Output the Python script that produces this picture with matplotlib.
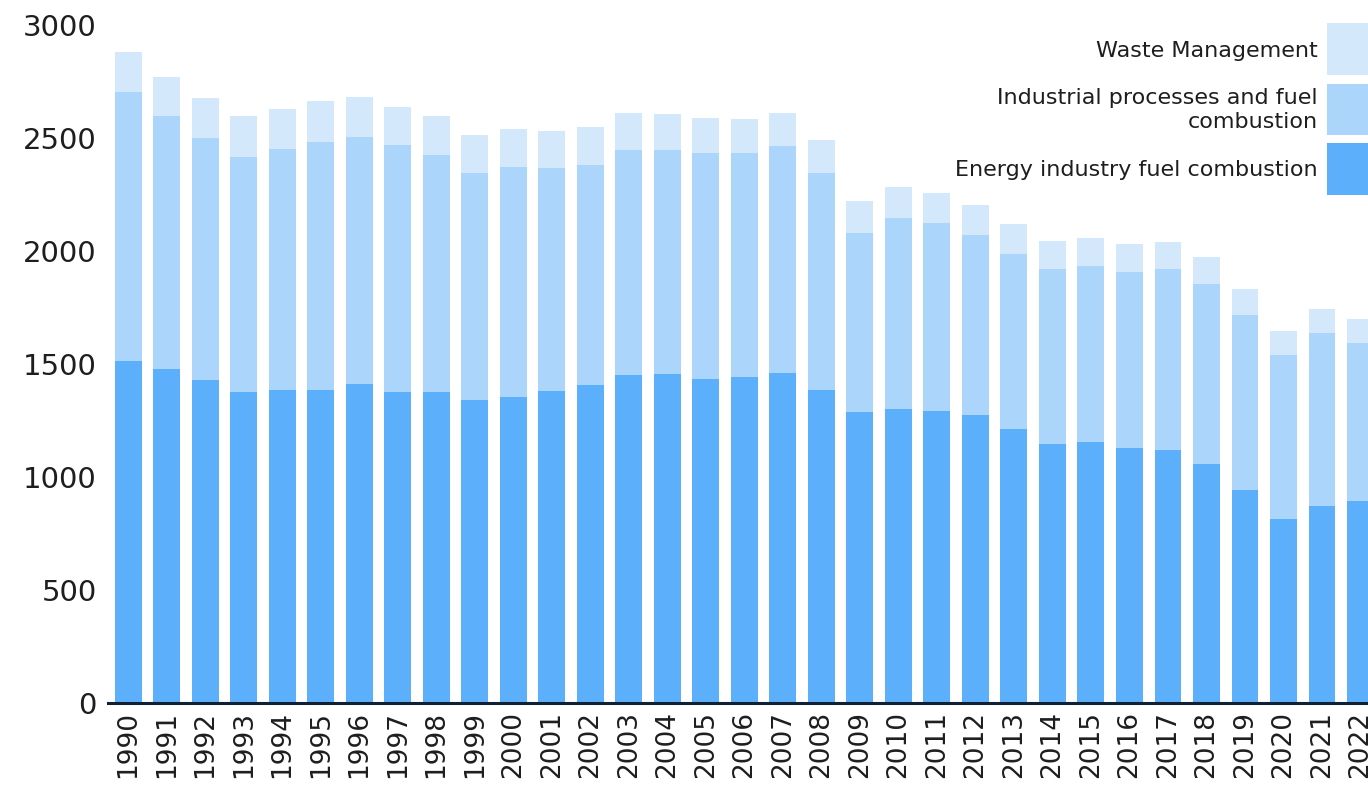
import matplotlib
matplotlib.use("Agg")
import matplotlib.pyplot as plt
from matplotlib.patches import Rectangle
import numpy as np

years = [str(y) for y in range(1990, 2023)]

energy = [1515, 1478, 1427, 1378, 1387, 1387, 1413, 1378, 1378, 1339,
          1354, 1382, 1409, 1453, 1456, 1435, 1444, 1459, 1387, 1286,
          1303, 1292, 1273, 1211, 1148, 1153, 1128, 1121, 1056, 941,
          814, 873, 892]
industrial_top = [2704, 2598, 2499, 2418, 2450, 2484, 2506, 2468, 2425, 2344,
                  2372, 2367, 2382, 2447, 2446, 2434, 2432, 2463, 2347, 2078,
                  2146, 2122, 2072, 1988, 1920, 1933, 1908, 1920, 1855, 1719,
                  1539, 1636, 1594]
total = [2881, 2770, 2679, 2598, 2630, 2664, 2681, 2639, 2598, 2515,
         2542, 2531, 2549, 2611, 2607, 2588, 2582, 2611, 2490, 2220,
         2283, 2255, 2203, 2118, 2045, 2057, 2031, 2040, 1975, 1834,
         1648, 1744, 1700]

industrial = [t - e for t, e in zip(industrial_top, energy)]
waste = [t - i for t, i in zip(total, industrial_top)]

series_labels = ["Waste Management",
                 "Industrial processes and fuel\ncombustion",
                 "Energy industry fuel combustion"]
c_energy = "#5cb0fb"
c_ind = "#acd5fb"
c_waste = "#d4e8fc"
text_c = "#1e1e1e"

plt.rcParams["font.family"] = ["DejaVu Sans"]

W, H = 1368, 785
fig = plt.figure(figsize=(W / 100, H / 100), dpi=100)
ax = fig.add_axes([108 / W, 1 - 703 / H, 1 - 108 / W, (703 - 25) / H])

x = np.arange(len(years))
bw = 0.70
ax.bar(x, energy, width=bw, color=c_energy, linewidth=0)
ax.bar(x, industrial, width=bw, bottom=energy, color=c_ind, linewidth=0)
ax.bar(x, waste, width=bw, bottom=industrial_top, color=c_waste, linewidth=0)

ax.set_xlim(-0.53, 32.195)
ax.set_ylim(0, 3000)
ax.set_yticks([0, 500, 1000, 1500, 2000, 2500, 3000])
ax.set_xticks(x)
ax.set_xticklabels(years, rotation=90, fontsize=19, color=text_c)
ax.tick_params(axis="y", length=0, pad=8, labelsize=21, labelcolor=text_c)
ax.tick_params(axis="x", length=0, pad=6)
for s in ["top", "right", "left"]:
    ax.spines[s].set_visible(False)
ax.spines["bottom"].set_color("#0f2136")
ax.spines["bottom"].set_linewidth(2.2)

# legend swatches on the right edge with right-aligned labels
swatches = [(23, 75, c_waste), (84, 135, c_ind), (143, 195, c_energy)]
for (top, bot, col) in swatches:
    fig.patches.append(Rectangle((1327 / W, 1 - bot / H), 60 / W, (bot - top) / H,
                                 transform=fig.transFigure, color=col, linewidth=0))
label_y = [51, 110, 170]
for lbl, yy in zip(series_labels, label_y):
    fig.text(1318 / W, 1 - yy / H, lbl, ha="right", va="center", fontsize=16,
             color=text_c, multialignment="right", linespacing=1.25)

fig.savefig("out.png", dpi=100)
